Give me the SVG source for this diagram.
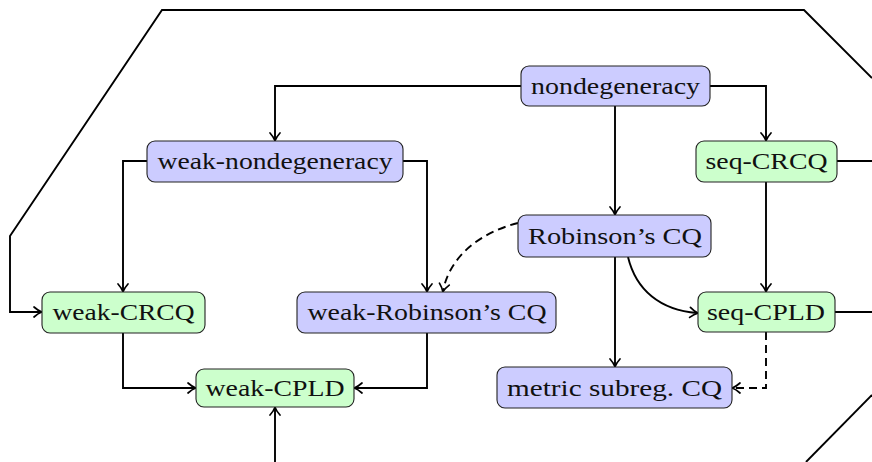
<svg xmlns="http://www.w3.org/2000/svg" width="872" height="462" viewBox="0 0 872 462">
<style>
.blue{fill:#ccccff;stroke:#222;stroke-width:1.1}
.green{fill:#ccffcc;stroke:#222;stroke-width:1.1}
text{font-family:"Liberation Serif","Times New Roman",serif;font-size:24px;fill:#111;text-anchor:middle}
.e{fill:none;stroke:#000;stroke-width:1.9;marker-end:url(#arr)}
.n{fill:none;stroke:#000;stroke-width:1.9}
.d{stroke-dasharray:8,5}
</style>
<defs>
<marker id="arr" markerUnits="userSpaceOnUse" markerWidth="14" markerHeight="14" refX="0" refY="0" viewBox="-9 -7 11 14" orient="auto" overflow="visible">
<path d="M-7,-5 C-4,-2.3 -1.5,-0.8 0.8,0 C-1.5,0.8 -4,2.3 -7,5" fill="none" stroke="#000" stroke-width="1.7" stroke-linecap="round" stroke-linejoin="round"/>
</marker>
</defs>
<g id="connectors">
<path class="e" d="M872,78 L804,10 L162,10 L10,236 L10,312 L41,312"/>
<path class="n" d="M872,395 L806,462"/>
<path class="e" d="M521,86 L275,86 L275,140"/>
<path class="e" d="M710,86 L766,86 L766,140"/>
<path class="e" d="M615,106 L615,214"/>
<path class="e" d="M147,161 L123,161 L123,291"/>
<path class="e" d="M403,161 L427,161 L427,291"/>
<path class="e d" d="M518,223 C482,232 450,255 443,291"/>
<path class="e" d="M766,182 L766,291"/>
<path class="n" d="M837,161 L872,161"/>
<path class="n" d="M835,312 L872,312"/>
<path class="e" d="M628,257 C636,290 660,310 697,313"/>
<path class="e" d="M615,257 L615,366"/>
<path class="e d" d="M766,332 L766,388 L733,388"/>
<path class="e" d="M123,333 L123,388 L195,388"/>
<path class="e" d="M427,333 L427,388 L355,388"/>
<path class="e" d="M275,462 L275,408"/>
</g>
<g id="nondegeneracy"><rect class="blue" x="521" y="66" width="189" height="40" rx="8"/><text x="615.5" y="94" textLength="169" lengthAdjust="spacingAndGlyphs">nondegeneracy</text></g>
<g id="weak-nondegeneracy"><rect class="blue" x="147" y="141" width="256" height="41" rx="8"/><text x="275" y="169" textLength="235" lengthAdjust="spacingAndGlyphs">weak-nondegeneracy</text></g>
<g id="seq-CRCQ"><rect class="green" x="696" y="141" width="141" height="41" rx="8"/><text x="766.5" y="169" textLength="122" lengthAdjust="spacingAndGlyphs">seq-CRCQ</text></g>
<g id="robinson"><rect class="blue" x="518" y="215" width="193" height="42" rx="8"/><text x="615" y="244" textLength="174" lengthAdjust="spacingAndGlyphs">Robinson’s CQ</text></g>
<g id="weak-CRCQ"><rect class="green" x="42" y="292" width="163" height="41" rx="8"/><text x="123.5" y="320" textLength="142" lengthAdjust="spacingAndGlyphs">weak-CRCQ</text></g>
<g id="weak-robinson"><rect class="blue" x="297" y="292" width="259" height="41" rx="8"/><text x="427" y="320" textLength="239" lengthAdjust="spacingAndGlyphs">weak-Robinson’s CQ</text></g>
<g id="seq-CPLD"><rect class="green" x="698" y="292" width="137" height="40" rx="8"/><text x="766" y="320" textLength="118" lengthAdjust="spacingAndGlyphs">seq-CPLD</text></g>
<g id="weak-CPLD"><rect class="green" x="196" y="369" width="158" height="38" rx="8"/><text x="275" y="396" textLength="139" lengthAdjust="spacingAndGlyphs">weak-CPLD</text></g>
<g id="metric"><rect class="blue" x="497" y="367" width="235" height="41" rx="8"/><text x="614.5" y="395.5" textLength="215" lengthAdjust="spacingAndGlyphs">metric subreg. CQ</text></g>
</svg>
